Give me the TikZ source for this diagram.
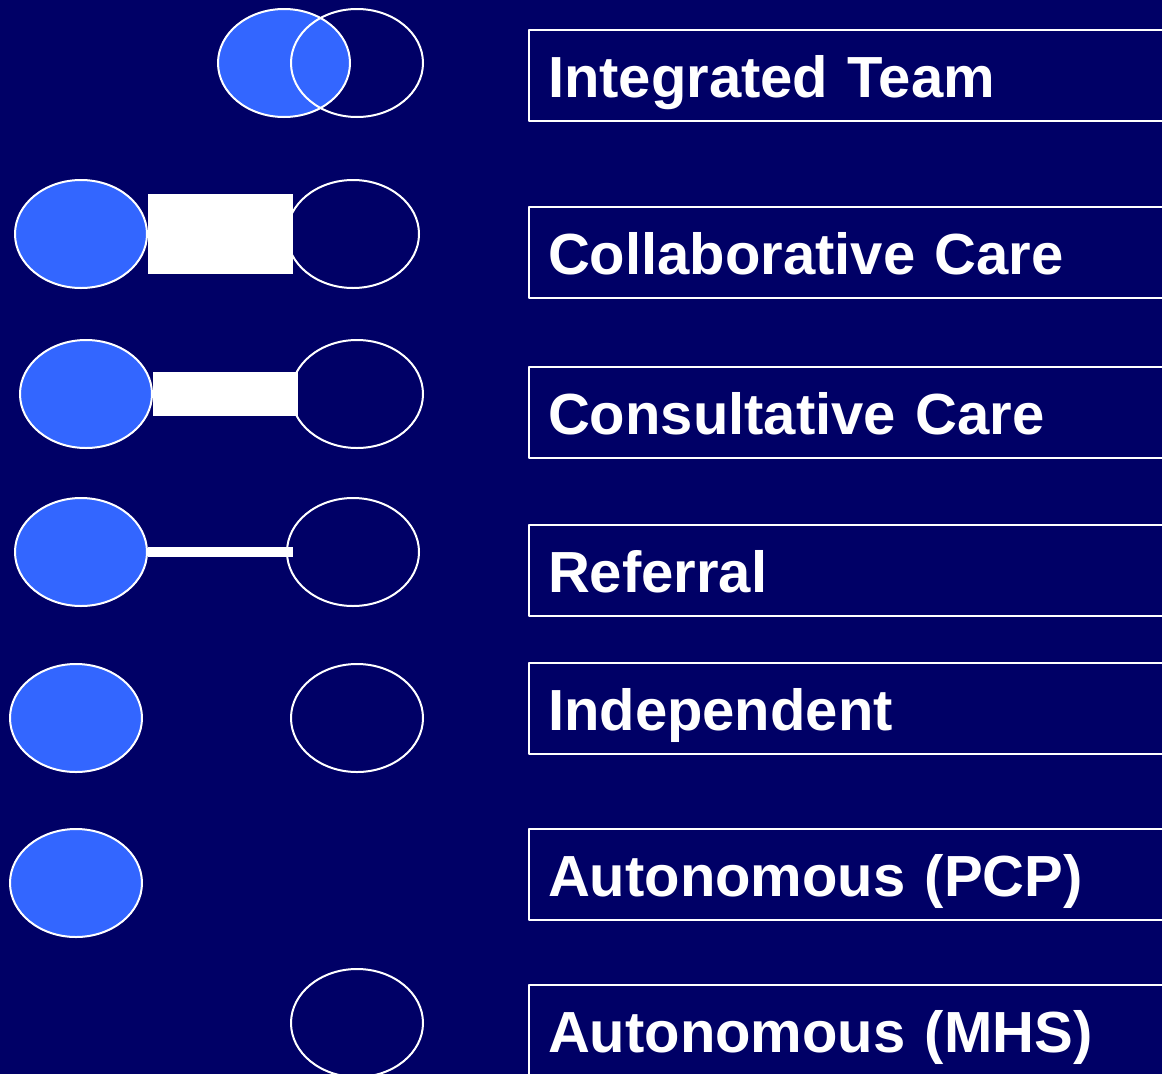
\documentclass[tikz,border=0pt]{standalone}
\usepackage{fontspec}
\setmainfont{Liberation Sans}
\usetikzlibrary{shapes.geometric,calc}
\definecolor{nen}{HTML}{000066}
\definecolor{xanh}{HTML}{3366FF}
\begin{document}
\begin{tikzpicture}[x=1pt, y=-1pt, line cap=round, line join=round,
	vong/.style={ellipse, draw=white, line width=2pt, minimum width=132pt, minimum height=108pt, inner sep=0pt},
	pcp/.style={vong, fill=xanh},
	mhs/.style={vong},
	nhan/.style={draw=white, line width=2pt, anchor=west, text=white,
		font=\bfseries\fontsize{58}{60}\selectfont, text width=640pt, align=left,
		inner xsep=19pt, minimum height=91pt, text height=44pt, text depth=0pt}]
	% Nền
	\useasboundingbox (0,0) rectangle (1162,1074);
	\fill[nen] (0,0) rectangle (1162,1074);
	
	% Các hình elip
	\node[pcp] (p1) at (284,63) {};
	\node[mhs] (m1) at (357,63) {};
	\node[mhs] (m2) at (353,234) {};
	\node[pcp] (p2) at (81,234) {};
	\node[mhs] (m3) at (357,394) {};
	\node[pcp] (p3) at (86,394) {};
	\node[mhs] (m4) at (353,552) {};
	\node[pcp] (p4) at (81,552) {};
	\node[pcp] (p5) at (76,718) {};
	\node[mhs] (m5) at (357,718) {};
	\node[pcp] (p6) at (76,883) {};
	\node[mhs] (m7) at (357,1023) {};
	
	% Các thanh nối
	\fill[white] ($(p2.east)+(0,-40)$) rectangle ($(m2.west)+(7,40)$);
	\fill[white] ($(p3.east)+(0,-22)$) rectangle ($(m3.west)+(8,22)$);
	\fill[white] ($(p4.east)+(0,-5)$) rectangle ($(m4.west)+(7,5)$);
	
	% Các nhãn
	\node[nhan] (t1) at (528,75.5) {Integrated Team};
	\node[nhan] (t2) at (528,252.5) {Collaborative Care};
	\node[nhan] (t3) at (528,412.5) {Consultative Care};
	\node[nhan] (t4) at (528,570.5) {Referral};
	\node[nhan] (t5) at (528,708.5) {Independent};
	\node[nhan] (t6) at (528,874.5) {Autonomous (PCP)};
	\node[nhan] (t7) at (528,1030.5) {Autonomous (MHS)};
\end{tikzpicture}
\end{document}
